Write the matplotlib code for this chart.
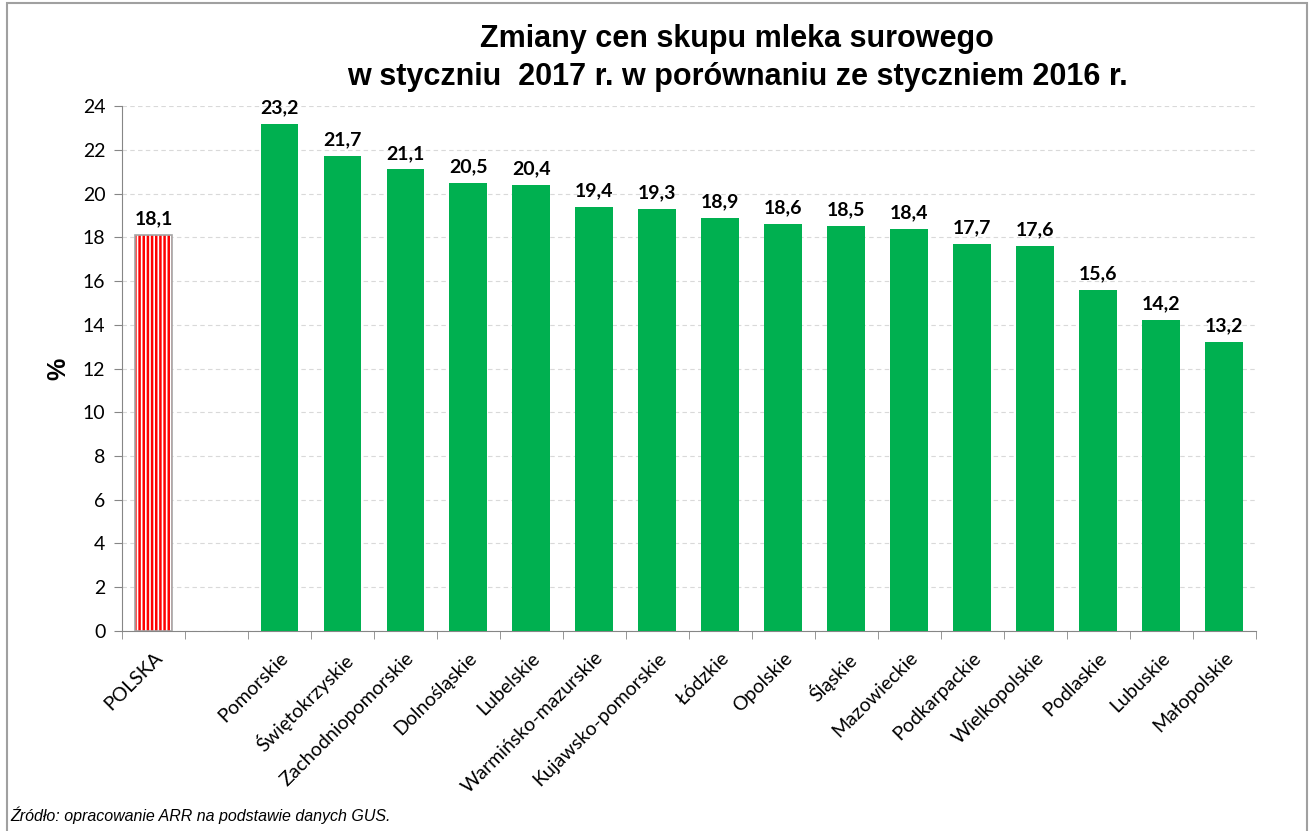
import matplotlib.pyplot as plt
from matplotlib.patches import Rectangle

# Data
regions = ['POLSKA', '', 'Pomorskie', 'Świętokrzyskie', 'Zachodniopomorskie',
           'Dolnośląskie', 'Lubelskie', 'Warmińsko-mazurskie', 'Kujawsko-pomorskie',
           'Łódzkie', 'Opolskie', 'Śląskie', 'Mazowieckie', 'Podkarpackie',
           'Wielkopolskie', 'Podlaskie', 'Lubuskie', 'Małopolskie']
values = [18.1, None, 23.2, 21.7, 21.1, 20.5, 20.4, 19.4, 19.3,
          18.9, 18.6, 18.5, 18.4, 17.7, 17.6, 15.6, 14.2, 13.2]

plt.rcParams['hatch.linewidth'] = 1.8
label_font = ['Lato', 'DejaVu Sans']

fig = plt.figure(figsize=(13.12, 8.31), dpi=100)
ax = fig.add_axes([0.093, 0.2407, 0.864, 0.6317])

x = list(range(len(regions)))
for i, v in enumerate(values):
    if v is None:
        continue
    if i == 0:
        ax.bar(i, v, width=0.6, color='white', hatch='||||', edgecolor='#ff0000',
               linewidth=0, zorder=3)
        ax.bar(i, v, width=0.6, fill=False, edgecolor='#a6a6a6', linewidth=1.2, zorder=4)
    else:
        ax.bar(i, v, width=0.6, color='#00b050', zorder=3)
    ax.text(i, v + 0.35, f'{v:.1f}'.replace('.', ','), ha='center', va='bottom',
            fontsize=14, fontweight='bold', family=label_font)

ax.set_xlim(-0.5, len(regions) - 0.5)
ax.set_ylim(0, 24)
ax.set_yticks(range(0, 25, 2))
ax.set_yticklabels([str(t) for t in range(0, 25, 2)], family=label_font, fontsize=14)
ax.set_xticks(x)
ax.set_xticklabels(regions, rotation=45, ha='right', rotation_mode='anchor',
                   family=label_font, fontsize=14)
ax.set_xticks([i - 0.5 for i in range(len(regions) + 1)], minor=True)
ax.tick_params(axis='x', which='major', length=0, pad=13)
ax.tick_params(axis='x', which='minor', length=6, color='#868686')
ax.tick_params(axis='y', length=6, color='#868686', pad=6)

ax.grid(axis='y', linestyle=(0, (4, 3)), color='#d9d9d9', linewidth=0.8, zorder=0)
for side in ['top', 'right']:
    ax.spines[side].set_visible(False)
for side in ['left', 'bottom']:
    ax.spines[side].set_color('#868686')

ax.set_ylabel('%', fontsize=18, fontweight='bold', family=['Liberation Sans'], labelpad=9)

fig.text(0.562, 0.953, 'Zmiany cen skupu mleka surowego', ha='center', va='center',
         fontsize=22, fontweight='bold', family='Liberation Sans')
fig.text(0.562, 0.907, 'w styczniu  2017 r. w porównaniu ze styczniem 2016 r.',
         ha='center', va='center', fontsize=22, fontweight='bold', family='Liberation Sans')
fig.text(0.008, 0.019, 'Źródło: opracowanie ARR na podstawie danych GUS.', ha='left',
         va='center', fontsize=11.5, style='italic', family='Liberation Sans')

# outer frame
fig.patches.append(Rectangle((0.0055, -0.01), 0.9905, 1.0065, transform=fig.transFigure,
                             fill=False, edgecolor='#a0a0a0', linewidth=1.5))

plt.savefig('out.png', dpi=100)
